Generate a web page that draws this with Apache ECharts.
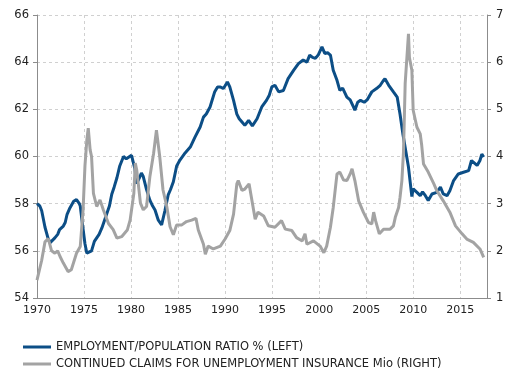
<!DOCTYPE html>
<html>
<head>
<meta charset="utf-8">
<script src="https://cdn.jsdelivr.net/npm/echarts@6/dist/echarts.min.js"></script>
<style>html,body{margin:0;padding:0;background:#fff;}#c{width:524px;height:386px;}</style>
</head>
<body>
<div id="c"></div>
<script>
const seriesNames = ['EMPLOYMENT/POPULATION RATIO % (LEFT)', 'CONTINUED CLAIMS FOR UNEMPLOYMENT INSURANCE Mio (RIGHT)'];
const xTicks = [1970, 1975, 1980, 1985, 1990, 1995, 2000, 2005, 2010, 2015];
const leftTicks = [54, 56, 58, 60, 62, 64, 66];
const rightTicks = [1, 2, 3, 4, 5, 6, 7];

const empYears = [1970.0,1970.3,1970.5,1970.85,1971.2,1971.4,1971.6,1971.9,1972.2,1972.4,1972.8,1973.0,1973.2,1973.5,1973.9,1974.2,1974.5,1974.6,1974.75,1975.1,1975.3,1975.45,1975.8,1976.1,1976.35,1976.6,1976.9,1977.4,1977.7,1977.95,1978.2,1978.5,1978.8,1979.2,1979.5,1979.7,1980.05,1980.4,1980.6,1980.9,1981.1,1981.3,1981.65,1982.0,1982.3,1982.55,1982.9,1983.25,1983.6,1983.95,1984.2,1984.5,1984.85,1985.2,1985.75,1986.3,1986.8,1987.35,1987.7,1988.0,1988.4,1988.9,1989.2,1989.5,1989.8,1990.0,1990.25,1990.5,1990.9,1991.25,1991.5,1991.8,1992.1,1992.5,1992.9,1993.4,1993.9,1994.4,1994.7,1994.97,1995.3,1995.7,1996.2,1996.7,1997.3,1997.8,1998.3,1998.7,1999.0,1999.3,1999.6,1999.9,2000.3,2000.6,2000.9,2001.2,2001.5,2001.9,2002.2,2002.5,2002.95,2003.3,2003.65,2003.8,2004.1,2004.4,2004.8,2005.1,2005.6,2006.1,2006.5,2006.8,2007.0,2007.4,2007.9,2008.3,2008.6,2008.9,2009.1,2009.5,2009.86,2010.0,2010.4,2010.75,2011.0,2011.3,2011.6,2012.0,2012.5,2012.9,2013.2,2013.6,2013.9,2014.3,2014.8,2015.35,2015.9,2016.2,2016.8,2017.1,2017.3,2017.5];
const empValues = [58.0,57.9,57.7,57.0,56.5,56.35,56.3,56.55,56.7,56.9,57.05,57.2,57.55,57.82,58.1,58.17,58.0,57.9,57.4,56.3,55.9,55.85,56.0,56.4,56.55,56.7,56.97,57.55,57.9,58.4,58.7,59.1,59.6,60.0,59.9,59.85,60.05,59.5,58.85,59.1,59.3,59.15,58.6,58.15,57.9,57.73,57.3,57.1,57.7,58.37,58.6,58.93,59.6,59.85,60.15,60.4,60.82,61.25,61.67,61.8,62.1,62.75,62.95,62.95,62.88,63.0,63.16,62.95,62.38,61.8,61.6,61.46,61.32,61.53,61.3,61.6,62.1,62.38,62.6,62.95,63.02,62.74,62.8,63.3,63.66,63.94,64.09,64.0,64.3,64.2,64.16,64.3,64.65,64.37,64.4,64.3,63.66,63.23,62.8,62.9,62.52,62.4,62.1,61.96,62.3,62.38,62.3,62.4,62.74,62.88,63.02,63.2,63.3,63.02,62.74,62.52,61.8,60.97,60.5,59.55,58.3,58.63,58.48,58.34,58.5,58.34,58.13,58.41,58.48,58.7,58.41,58.34,58.55,58.98,59.26,59.33,59.4,59.83,59.62,59.83,60.1,59.98];

const claimYears = [1970.0,1970.5,1970.85,1971.2,1971.55,1971.9,1972.2,1972.45,1972.8,1973.3,1973.65,1974.2,1974.6,1974.9,1975.1,1975.3,1975.45,1975.65,1975.8,1976.0,1976.35,1976.7,1977.05,1977.6,1978.1,1978.5,1979.0,1979.6,1979.9,1980.3,1980.45,1980.6,1981.0,1981.3,1981.65,1982.0,1982.4,1982.7,1983.05,1983.4,1983.8,1984.15,1984.5,1984.85,1985.4,1985.9,1986.45,1986.9,1987.15,1987.7,1987.9,1988.2,1988.75,1989.5,1990.0,1990.5,1990.9,1991.25,1991.4,1991.8,1992.1,1992.55,1992.8,1993.2,1993.5,1994.1,1994.6,1995.3,1996.0,1996.4,1997.1,1997.6,1998.2,1998.5,1998.7,1999.4,2000.1,2000.5,2000.8,2001.2,2001.5,2001.9,2002.2,2002.6,2002.95,2003.3,2003.5,2003.8,2004.2,2004.7,2005.25,2005.6,2005.8,2006.0,2006.4,2006.85,2007.55,2007.9,2008.1,2008.45,2008.6,2008.8,2008.97,2009.15,2009.4,2009.5,2009.6,2009.86,2010.0,2010.4,2010.75,2010.9,2011.1,2011.6,2012.2,2012.5,2013.2,2013.9,2014.5,2015.2,2015.7,2016.4,2017.1,2017.5];
const claimValues = [1.38,1.8,2.19,2.26,2.0,1.95,2.0,1.88,1.74,1.56,1.6,1.95,2.09,2.87,3.8,4.35,4.6,4.14,4.0,3.22,2.94,3.08,2.87,2.58,2.45,2.27,2.3,2.44,2.65,3.22,3.86,3.72,3.01,2.87,2.94,3.57,4.07,4.56,4.0,3.29,2.94,2.51,2.34,2.55,2.55,2.62,2.65,2.69,2.44,2.14,1.93,2.1,2.04,2.1,2.25,2.43,2.78,3.42,3.49,3.28,3.31,3.42,3.13,2.67,2.82,2.74,2.53,2.5,2.64,2.46,2.43,2.28,2.21,2.36,2.14,2.21,2.1,1.96,2.1,2.5,2.92,3.63,3.67,3.5,3.49,3.63,3.74,3.49,3.06,2.82,2.6,2.57,2.82,2.64,2.36,2.46,2.46,2.53,2.71,2.92,3.13,3.49,4.1,5.55,6.3,6.6,6.1,5.83,4.98,4.62,4.48,4.25,3.84,3.67,3.42,3.28,3.06,2.82,2.53,2.36,2.25,2.18,2.04,1.86];

const zip = (xs, ys) => xs.map((x, i) => [x, ys[i]]);
const font = 'DejaVu Sans';
const axisColor = '#8c8c8c';

const chart = echarts.init(document.getElementById('c'), null, {renderer: 'canvas'});
chart.setOption({
  animation: false,
  backgroundColor: '#fff',
  grid: {left: 37, right: 37, top: 15, bottom: 88, containLabel: false},
  legend: {
    orient: 'vertical',
    left: 18, top: 335,
    itemWidth: 28, itemHeight: 3, itemGap: 3,
    icon: 'rect',
    data: seriesNames,
    textStyle: {fontFamily: font, fontSize: 11.5, color: '#222', lineHeight: 14}
  },
  xAxis: {
    type: 'value', min: xTicks[0], max: 2017.85, interval: 5,
    axisLine: {show: true, lineStyle: {color: axisColor, width: 1}},
    axisTick: {show: false},
    axisLabel: {fontFamily: font, fontSize: 11, color: '#222', margin: 7,
      formatter: v => (xTicks.indexOf(v) >= 0 ? String(v) : '')},
    splitLine: {show: true, lineStyle: {color: '#d0d0d0', type: [3, 3], width: 1}}
  },
  yAxis: [
    {type: 'value', position: 'left', min: leftTicks[0], max: leftTicks[leftTicks.length-1], interval: 2,
     axisLine: {show: true, lineStyle: {color: axisColor, width: 1}},
     axisTick: {show: true, length: 4, inside: false, lineStyle: {color: axisColor}},
     axisLabel: {fontFamily: font, fontSize: 11.5, color: '#222', margin: 8},
     splitLine: {show: true, lineStyle: {color: '#d0d0d0', type: [3, 3], width: 1}}},
    {type: 'value', position: 'right', min: rightTicks[0], max: rightTicks[rightTicks.length-1], interval: 1,
     axisLine: {show: true, lineStyle: {color: axisColor, width: 1}},
     axisTick: {show: true, length: 4, inside: false, lineStyle: {color: axisColor}},
     axisLabel: {fontFamily: font, fontSize: 11.5, color: '#222', margin: 9},
     splitLine: {show: false}}
  ],
  series: [
    {name: seriesNames[0], type: 'line', yAxisIndex: 0, data: zip(empYears, empValues),
     showSymbol: false, symbol: 'none', color: '#0c4e86',
     lineStyle: {width: 3, color: '#0c4e86'}, z: 3},
    {name: seriesNames[1], type: 'line', yAxisIndex: 1, data: zip(claimYears, claimValues),
     showSymbol: false, symbol: 'none', color: '#a3a3a3',
     lineStyle: {width: 3, color: '#a3a3a3'}, z: 4}
  ]
});
</script>
</body>
</html>
